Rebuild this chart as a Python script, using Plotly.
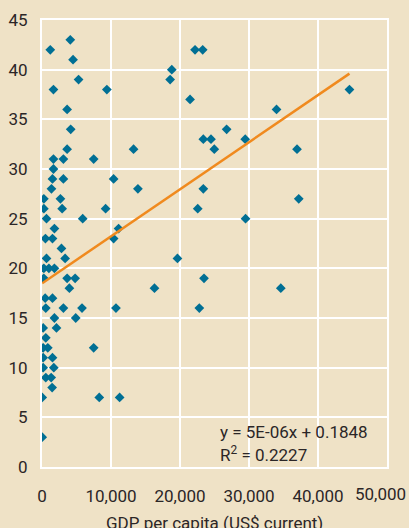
import plotly.graph_objects as go

# GDP per capita (US$ current) and the y-value (%) for each country
gdp = [1200, 4100, 4500, 5300, 1660, 9400, 3640, 4160, 3640, 1660, 3100, 7490,
       1660, 1520, 3100, 10380, 1370, 270, 2670, 270, 2920, 9220, 650, 5900,
       1800, 500, 1520, 2820, 650, 3350, 270, 1000, 1800, 10380, 11100, 270,
       3640, 4800, 3970, 460, 1520, 550, 3100, 5800, 10720, 1800, 4890, 170,
       2100, 550, 7490, 170, 840, 170, 1520, 170, 1710, 550, 1330, 1470,
       30, 8300, 11250, 30,
       22180, 23290, 18810, 18570, 21460, 26760, 23380, 24490, 29450, 24970,
       13270, 13900, 23380, 22570, 29500, 19630, 23480, 16300, 22800,
       44560, 33990, 36960, 37210, 34610]
values = [42, 43, 41, 39, 38, 38, 36, 34, 32, 31, 31, 31,
          30, 29, 29, 29, 28, 27, 27, 26, 26, 26, 25, 25,
          24, 23, 23, 22, 21, 21, 20, 20, 20, 23, 24, 19,
          19, 19, 18, 17, 17, 16, 16, 16, 16, 15, 15, 14,
          14, 13, 12, 12, 12, 11, 11, 10, 10, 9, 9, 8,
          7, 7, 7, 3,
          42, 42, 40, 39, 37, 34, 33, 33, 33, 32,
          32, 28, 28, 26, 25, 21, 19, 18, 16,
          38, 36, 32, 27, 18]

# Linear trend as shown on the chart (in % units)
trend_slope = 0.000474
trend_intercept = 18.48
equation_text = "y = 5E-06x + 0.1848"
r2_text = "R<sup>2</sup> = 0.2227"

x_ticks = [0, 10000, 20000, 30000, 40000, 50000]
x_ticklabels = ["0", "10,000", "20,000", "30,000", "40,000", "50,000"]
y_ticks = [0, 5, 10, 15, 20, 25, 30, 35, 40, 45]
x_title = "GDP per capita (US$ current)"

BG = "#efe2c6"
FONT = "Roboto, Liberation Sans, sans-serif"
TXT = "#2b2627"

x_min, x_max = min(gdp), max(gdp)
trend_x = [x_min, x_max]
trend_y = [trend_intercept + trend_slope * v for v in trend_x]

fig = go.Figure()
fig.add_trace(go.Scatter(
    x=gdp, y=values, mode="markers",
    marker=dict(symbol="diamond", size=7.5, color="#006f94", line=dict(width=0)),
    showlegend=False, hoverinfo="x+y"))
fig.add_trace(go.Scatter(
    x=trend_x, y=trend_y, mode="lines",
    line=dict(color="#f08a1e", width=2.5),
    showlegend=False, hoverinfo="skip"))

fig.add_annotation(x=25550, y=3.55, xref="x", yref="y", text=equation_text,
                   showarrow=False, xanchor="left", yanchor="middle",
                   font=dict(family=FONT, size=17, color=TXT))
fig.add_annotation(x=25550, y=1.35, xref="x", yref="y", text=r2_text,
                   showarrow=False, xanchor="left", yanchor="middle",
                   font=dict(family=FONT, size=17, color=TXT))
# last x tick label is nudged inward (as in the original) so it fits the frame
fig.add_annotation(x=49060, y=0, xref="x", yref="paper", text=x_ticklabels[-1],
                   showarrow=False, xanchor="center", yanchor="middle", yshift=-27,
                   font=dict(family=FONT, size=17, color=TXT))
# x-axis title (sits low, partly cropped at the bottom edge as in the original)
fig.add_annotation(x=0.5, y=0, xref="paper", yref="paper", text=x_title,
                   showarrow=False, xanchor="center", yanchor="middle", yshift=-56,
                   font=dict(family=FONT, size=17, color=TXT))
shown_ticklabels = x_ticklabels[:-1] + [""]

fig.update_layout(
    width=409, height=528,
    paper_bgcolor=BG, plot_bgcolor=BG,
    margin=dict(l=41.5, r=22, t=20, b=61, pad=0),
    font=dict(family=FONT, size=17, color=TXT),
    xaxis=dict(range=[0, 50000], tickvals=x_ticks, ticktext=shown_ticklabels,
               automargin=False,
               showgrid=True, gridcolor="white", gridwidth=2,
               zeroline=False, showline=True, linecolor="white", linewidth=2,
               mirror=True, ticks="outside", ticklen=13, tickcolor="rgba(0,0,0,0)"),
    yaxis=dict(range=[0, 45], tickvals=y_ticks, automargin=False,
               showgrid=True, gridcolor="white", gridwidth=2,
               zeroline=False, showline=True, linecolor="white", linewidth=2,
               mirror=True, ticks="outside", ticklen=9, tickcolor="rgba(0,0,0,0)"),
)

fig.write_html(
    "out.html",
    config={"displayModeBar": False},
    post_script="document.body.style.margin='0';document.body.style.overflow='hidden';"
                "document.body.style.background='" + BG + "';",
)
